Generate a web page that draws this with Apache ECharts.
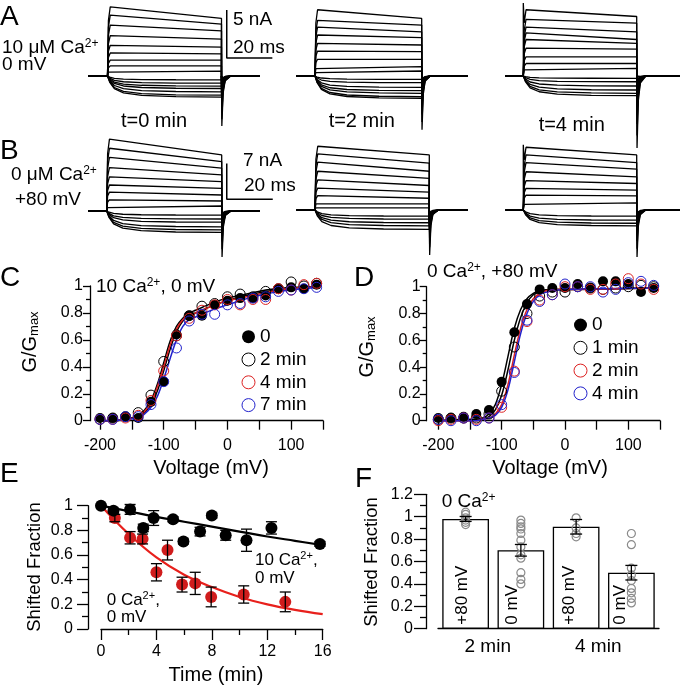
<!DOCTYPE html>
<html><head><meta charset="utf-8">
<script src="https://cdn.jsdelivr.net/npm/echarts@6/dist/echarts.min.js"></script>
<style>html,body{margin:0;padding:0;background:#fff}#c{width:680px;height:689px}</style>
</head><body><div id="c"></div>
<script>
// ---------------- DATA ----------------
// Panels A/B: current traces (nA), pulse length (ms)
const pulseMs = 50;
const scaleBarA = [20, 5];   // ms, nA
const scaleBarB = [20, 7];   // ms, nA
const a1Start = [7.2,6.35,5.3,4.2,3.2,2.4,1.65,1.05,0.5];
const a1End   = [6.0,5.4,4.7,3.85,3.0,2.3,1.65,1.05,0.5];
const a1In    = [-0.4,-0.75,-1.05,-1.3,-1.65,-2.0,-2.2];
const a1Tail  = [-5.2,-4.5,-3.8,-3.1,-2.4,-1.8,-1.2,-0.8,-0.5];
const a2Start = [6.9,5.8,5.1,4.27,3.4,2.6,1.74,0.97,0.45];
const a2End   = [6.0,5.3,4.6,4.0,3.23,2.53,1.74,0.97,0.52];
const a2In    = [-0.35,-0.7,-1.18,-1.53,-1.8,-2.15,-2.32];
const a2Tail  = [-5.6,-4.8,-4.0,-3.3,-2.6,-2.0,-1.4,-0.9,-0.5];
const a3Start = [6.9,5.9,5.1,4.5,3.8,2.9,2.0,1.3,0.8];
const a3End   = [6.2,5.5,4.6,3.8,3.4,2.8,2.0,1.3,0.8];
const a3In    = [-0.24,-0.6,-1.04,-1.46,-1.8,-2.05];
const a3Tail  = [-7.5,-6.2,-5.0,-4.0,-3.1,-2.4,-1.7,-1.1,-0.6];
const b1Start = [14.1,12.3,10.5,8.5,6.7,5.1,3.7,2.2,0.85];
const b1End   = [11.0,9.7,8.4,7.1,5.75,4.45,3.14,1.96,0.98];
const b1In    = [-0.8,-1.57,-2.2,-3.1,-3.7,-4.2];
const b1Tail  = [-9,-7.5,-6,-4.8,-3.8,-2.9,-2.1,-1.4,-0.8];
const b2Start = [12.5,11.0,9.4,7.6,5.9,4.3,2.8,1.5,0.5];
const b2End   = [10.8,9.2,7.6,6.2,4.8,3.5,2.3,1.2,0.4];
const b2In    = [-1.2,-1.8,-2.5,-3.1,-3.8];
const b2Tail  = [-8.8,-7.3,-5.9,-4.7,-3.7,-2.8,-2.0,-1.3,-0.7];
const b3Start = [12.3,10.8,9.3,7.5,5.75,4.25,2.9,1.4];
const b3End   = [10.8,9.3,8.0,6.5,5.2,3.9,2.75,1.4];
const b3In    = [-1.2,-2.0,-2.6,-3.1];
const b3Tail  = [-9.2,-7.6,-6.1,-4.8,-3.7,-2.7,-1.8,-1.0];
const onsetSpike = [0,0,7.6,0,0,12.8];

// Panel C
const voltC = [-200,-180,-160,-140,-120,-100,-80,-60,-40,-20,0,20,40,60,80,100,120,140];
const gC0 = [0.02,0.02,0.03,0.02,0.14,0.29,0.64,0.78,0.78,0.86,0.89,0.91,0.91,0.93,0.98,0.99,0.98,1.01];
const gC2 = [0.01,0.02,0.03,0.06,0.19,0.44,0.63,0.78,0.85,0.87,0.92,0.94,0.92,0.96,0.98,1.03,1.00,1.02];
const gC4 = [0.01,0.01,0.02,0.04,0.15,0.37,0.63,0.76,0.82,0.86,0.90,0.86,0.90,0.90,0.98,0.97,1.01,1.02];
const gC7 = [0.01,0.01,0.03,0.03,0.12,0.29,0.54,0.74,0.79,0.79,0.86,0.87,0.91,0.92,0.96,0.97,0.98,0.99];
const fitVoltC = [-200,-180,-160,-140,-130,-120,-110,-100,-90,-80,-70,-60,-50,-40,-20,0,20,40,60,80,100,120,140];
const fitC0 = [0.00,0.00,0.01,0.03,0.06,0.12,0.22,0.37,0.53,0.66,0.74,0.78,0.80,0.82,0.86,0.89,0.92,0.94,0.96,0.97,0.98,0.99,0.99];
const fitC2 = [0.00,0.00,0.01,0.04,0.08,0.15,0.27,0.43,0.59,0.70,0.76,0.80,0.82,0.84,0.88,0.91,0.93,0.95,0.97,0.98,0.99,0.99,1.00];
const fitC4 = [0.00,0.00,0.01,0.03,0.07,0.13,0.25,0.40,0.56,0.68,0.75,0.78,0.80,0.82,0.86,0.89,0.91,0.93,0.95,0.97,0.98,0.99,0.99];
const fitC7 = [0.00,0.00,0.01,0.02,0.05,0.10,0.18,0.31,0.46,0.60,0.70,0.75,0.77,0.79,0.83,0.86,0.89,0.92,0.94,0.96,0.97,0.98,0.99];
const legendC = ['0','2 min','4 min','7 min'];

// Panel D
const voltD = [-200,-180,-160,-140,-120,-100,-80,-60,-40,-20,0,20,40,60,80,100,120,140];
const gD0 = [0.02,0.02,0.03,0.05,0.08,0.29,0.66,0.87,0.98,0.99,0.99,1.02,0.99,1.04,1.04,1.02,0.96,0.99];
const gD1 = [0.01,0.02,0.02,0.02,0.05,0.22,0.55,0.80,0.93,0.96,0.96,1.00,0.99,0.98,0.99,1.00,1.01,1.00];
const gD2 = [0.00,0.01,0.02,0.01,0.02,0.10,0.37,0.74,0.90,0.94,1.00,1.00,0.98,0.98,1.02,1.06,1.02,0.98];
const gD4 = [0.01,0.00,0.02,0.00,0.02,0.12,0.36,0.75,0.89,0.94,1.02,1.00,1.00,0.96,0.98,1.03,1.04,1.01];
const fitVoltD = [-200,-140,-130,-120,-110,-100,-90,-80,-70,-60,-50,-40,-20,0,140];
const fitD0 = [0.00,0.01,0.02,0.05,0.12,0.27,0.48,0.69,0.83,0.91,0.95,0.97,0.98,0.98,0.99];
const fitD1 = [0.00,0.01,0.01,0.03,0.08,0.19,0.38,0.60,0.77,0.88,0.94,0.96,0.98,0.98,0.99];
const fitD2 = [0.00,0.00,0.01,0.02,0.05,0.12,0.27,0.49,0.69,0.83,0.91,0.95,0.98,0.98,0.99];
const fitD4 = [0.00,0.00,0.01,0.02,0.04,0.10,0.23,0.44,0.65,0.80,0.89,0.94,0.97,0.98,0.99];
const legendD = ['0','1 min','2 min','4 min'];

// Panel E
const timeBlack = [0,0.9,2.1,3.05,3.8,5.2,5.95,7.15,8.0,9.0,10.5,12.3,15.8];
const fracBlack = [1.0,0.96,0.97,0.82,0.90,0.89,0.71,0.79,0.92,0.76,0.72,0.82,0.69];
const errBlack  = [0,0.02,0.04,0.03,0.06,0.02,0.02,0.035,0.02,0.04,0.09,0.05,0.02];
const timeRed = [1.0,2.1,3.0,4.0,4.8,5.85,6.8,7.95,10.3,13.3];
const fracRed = [0.90,0.74,0.73,0.46,0.64,0.36,0.37,0.26,0.28,0.22];
const errRed  = [0.03,0.05,0.04,0.07,0.08,0.06,0.09,0.08,0.07,0.08];
const fitTime = [0,2,4,6,8,10,12,14,16];
const fitBlackE = [1.0,0.955,0.91,0.87,0.83,0.79,0.75,0.715,0.68];
const fitRedE = [1.0,0.77,0.58,0.44,0.34,0.26,0.20,0.155,0.12];

// Panel F
const barLabels = ['+80 mV','0 mV','+80 mV','0 mV'];
const barValues = [0.98,0.70,0.91,0.50];
const barErr = [0.022,0.052,0.065,0.065];
const groupLabels = ['2 min','4 min'];
const ptsBar1 = [1.04,1.02,0.99,0.97,0.95,0.93];
const ptsBar2 = [0.97,0.94,0.91,0.89,0.85,0.79,0.73,0.66,0.63,0.50,0.44,0.40];
const ptsBar3 = [0.99,0.90,0.85,0.82];
const ptsBar4 = [0.85,0.75,0.54,0.48,0.43,0.36,0.32,0.27,0.23];

// ---------------- LAYOUT / STYLE ----------------
const FONT = '"Liberation Sans", Arial, Helvetica, sans-serif';
const RED = '#dd2222', BLUE = '#2222cc';
const zip = (a, b) => a.map((v, i) => [v, b[i]]);

const tracePanels = [
  {ps:107.5, pe:221.5, bl0:88,    bl1:260, right:280, base:76,  k:9.6, top:0,   bottom:150},
  {ps:315,   pe:421.7, bl0:296.7, bl1:468, right:468, base:76,  k:9.6, top:0,   bottom:150},
  {ps:523.3, pe:636.7, bl0:505.7, bl1:680, right:680, base:76,  k:9.6, top:0,   bottom:150},
  {ps:106.7, pe:221.7, bl0:88,    bl1:260, right:280, base:211, k:5.1, top:135, bottom:262},
  {ps:315,   pe:429.3, bl0:296.7, bl1:468, right:468, base:210, k:5.1, top:135, bottom:262},
  {ps:523.3, pe:636.7, bl0:505.7, bl1:680, right:680, base:210, k:5.1, top:135, bottom:262}
];
const traceSets = [
  [a1Start,a1End,a1In,a1Tail],[a2Start,a2End,a2In,a2Tail],[a3Start,a3End,a3In,a3Tail],
  [b1Start,b1End,b1In,b1Tail],[b2Start,b2End,b2In,b2Tail],[b3Start,b3End,b3In,b3Tail]
];
// scale bar anchors (ms, nA) in panel A1 / B1 coordinates
const scaleAnchorA = [52.3, 1.875];
const scaleAnchorB = [52.2, 2.3];

const grids = [], xAxes = [], yAxes = [], series = [];

tracePanels.forEach((p, i) => {
  const s = (p.pe - p.ps) / pulseMs;
  const xmin = (p.bl0 - p.ps) / s, xmax = (p.right - p.ps) / s, tEnd = (p.bl1 - p.ps) / s;
  grids.push({left:p.bl0, top:p.top, width:p.right - p.bl0, height:p.bottom - p.top});
  xAxes.push({type:'value', gridIndex:i, min:xmin, max:xmax, show:false});
  yAxes.push({type:'value', gridIndex:i, min:(p.base - p.bottom)/p.k, max:(p.base - p.top)/p.k, show:false});
  const [st, en, inw, tl] = traceSets[i];
  const T = pulseMs;
  const addLine = (data) => series.push({type:'line', xAxisIndex:i, yAxisIndex:i, data, symbol:'none',
    silent:true, lineStyle:{color:'#000', width:1.3}, z:2});
  inw.forEach(f => {
    addLine([[xmin,0],[0,0],[1,0.3*f],[3,0.6*f],[7,0.8*f],[15,0.92*f],[30,0.98*f],[T,f],[T,0],[T+0.4,0.7*f],[T+1.5,0.2*f],[T+4,0],[tEnd,0]]);
  });
  st.forEach((a, j) => {
    const e = en[j], t = tl[j];
    const d = [[xmin,0],[0,0]];
    if (j === 0 && onsetSpike[i] > 0) d.push([0, onsetSpike[i]]);
    d.push([0.4, 0.8*a],[1.2, a],[T, e],[T, 0],[T+0.15, t],[T+0.7, t*0.35],[T+1.6, t*0.1],[T+4, 0],[tEnd, 0]);
    addLine(d);
  });
});
// scale bars
series.push({type:'line', xAxisIndex:0, yAxisIndex:0, symbol:'none', silent:true, lineStyle:{color:'#000', width:1.5},
  data:[[scaleAnchorA[0], scaleAnchorA[1]+scaleBarA[1]],[scaleAnchorA[0], scaleAnchorA[1]],[scaleAnchorA[0]+scaleBarA[0], scaleAnchorA[1]]]});
series.push({type:'line', xAxisIndex:3, yAxisIndex:3, symbol:'none', silent:true, lineStyle:{color:'#000', width:1.5},
  data:[[scaleAnchorB[0], scaleAnchorB[1]+scaleBarB[1]],[scaleAnchorB[0], scaleAnchorB[1]],[scaleAnchorB[0]+scaleBarB[0], scaleAnchorB[1]]]});

// common axis styling
const AL = {show:true, onZero:false, lineStyle:{color:'#000', width:1.3}};
const TS = {color:'#000', width:1.3};
const LBL = (margin, extra) => Object.assign({color:'#000', fontSize:16, fontFamily:FONT, margin}, extra || {});

// C (grid 6), D (grid 7)
grids.push({left:100, top:286, width:223, height:134.7});
grids.push({left:438.3, top:286.7, width:221.7, height:134});
[6,7].forEach((g, idx) => {
  xAxes.push({type:'value', gridIndex:g, min:-200, max:150, interval:50, splitLine:{show:false}, axisLine:AL,
    axisTick:{show:true, length:9, lineStyle:TS},
    axisLabel:LBL(17, {formatter: v => (v % 100 === 0 ? String(v) : '')})});
  yAxes.push({type:'value', gridIndex:g, min:0, max:1, interval:0.2, offset: idx === 0 ? 10 : 11.6,
    splitLine:{show:false}, axisLine:AL, axisTick:{show:true, length:7, lineStyle:TS},
    minorTick:{show:true, splitNumber:2, length:4, lineStyle:TS}, axisLabel:LBL(idx === 0 ? 7 : 6)});
});
// E (grid 8)
grids.push({left:101, top:505.7, width:221.7, height:123.3});
xAxes.push({type:'value', gridIndex:8, min:0, max:16, interval:4, splitLine:{show:false}, axisLine:AL,
  axisTick:{show:true, length:11, lineStyle:TS}, minorTick:{show:true, splitNumber:2, length:6, lineStyle:TS},
  axisLabel:LBL(15)});
yAxes.push({type:'value', gridIndex:8, min:0, max:1, interval:0.2, offset:13, splitLine:{show:false}, axisLine:AL,
  axisTick:{show:true, length:11, lineStyle:TS}, minorTick:{show:true, splitNumber:2, length:6, lineStyle:TS},
  axisLabel:LBL(15)});
// F (grid 9)
grids.push({left:438, top:494.3, width:221, height:134.4});
xAxes.push({type:'category', gridIndex:9, data:barLabels.map((b, i) => b + i), position:'bottom',
  axisLine:AL, axisTick:{show:false}, axisLabel:{show:false}, splitLine:{show:false}});
yAxes.push({type:'value', gridIndex:9, min:0, max:1.2, interval:0.2, offset:12, splitLine:{show:false}, axisLine:AL,
  axisTick:{show:true, length:12, lineStyle:TS}, minorTick:{show:true, splitNumber:2, length:6, lineStyle:TS},
  axisLabel:LBL(13)});
xAxes.push({type:'category', gridIndex:9, data:groupLabels, position:'bottom', axisLine:{show:false},
  axisTick:{show:false}, splitLine:{show:false},
  axisLabel:{color:'#000', fontSize:19, fontFamily:FONT, margin:9, padding:[0,11,0,0]}});

// C/D series
function gSeries(ax, name, xs, ys, fill, stroke, z) {
  return {type:'scatter', name, xAxisIndex:ax, yAxisIndex:ax, data:zip(xs, ys), symbol:'circle', symbolSize:10,
    clip:false, silent:true, z,
    itemStyle:{color:fill, opacity:1, borderColor:stroke, borderWidth:fill === stroke ? 0 : 1}};
}
function fitSeries(ax, xs, ys, color) {
  return {type:'line', xAxisIndex:ax, yAxisIndex:ax, data:zip(xs, ys), symbol:'none', smooth:0.35, clip:false,
    silent:true, z:2, lineStyle:{color, width:1.5}};
}
const HOLLOW = 'rgba(0,0,0,0)';
series.push(fitSeries(6, fitVoltC, fitC0, '#000'), fitSeries(6, fitVoltC, fitC2, '#000'),
  fitSeries(6, fitVoltC, fitC4, RED), fitSeries(6, fitVoltC, fitC7, BLUE));
series.push(gSeries(6, 'C|'+legendC[0], voltC, gC0, '#000', '#000', 3),
  gSeries(6, 'C|'+legendC[1], voltC, gC2, HOLLOW, '#000', 4),
  gSeries(6, 'C|'+legendC[2], voltC, gC4, HOLLOW, RED, 4),
  gSeries(6, 'C|'+legendC[3], voltC, gC7, HOLLOW, BLUE, 4));
series.push(fitSeries(7, fitVoltD, fitD0, '#000'), fitSeries(7, fitVoltD, fitD1, '#000'),
  fitSeries(7, fitVoltD, fitD2, RED), fitSeries(7, fitVoltD, fitD4, BLUE));
series.push(gSeries(7, 'D|'+legendD[0], voltD, gD0, '#000', '#000', 3),
  gSeries(7, 'D|'+legendD[1], voltD, gD1, HOLLOW, '#000', 4),
  gSeries(7, 'D|'+legendD[2], voltD, gD2, HOLLOW, RED, 4),
  gSeries(7, 'D|'+legendD[3], voltD, gD4, HOLLOW, BLUE, 4));

// error bar renderer
function errRender(capHalf, width) {
  return function (params, api) {
    const x = api.value(0), lo = api.value(1), hi = api.value(2);
    const p1 = api.coord([x, lo]), p2 = api.coord([x, hi]);
    const st = {stroke:'#000', lineWidth:width};
    return {type:'group', children:[
      {type:'line', shape:{x1:p1[0], y1:p1[1], x2:p2[0], y2:p2[1]}, style:st},
      {type:'line', shape:{x1:p1[0]-capHalf, y1:p1[1], x2:p1[0]+capHalf, y2:p1[1]}, style:st},
      {type:'line', shape:{x1:p2[0]-capHalf, y1:p2[1], x2:p2[0]+capHalf, y2:p2[1]}, style:st}]};
  };
}
const errData = (xs, ys, es) => xs.map((x, i) => [x, ys[i]-es[i], ys[i]+es[i]]).filter((d, i) => es[i] > 0);

// E series
series.push({type:'line', xAxisIndex:8, yAxisIndex:8, data:zip(fitTime, fitRedE), symbol:'none', smooth:0.4,
  silent:true, z:2, lineStyle:{color:'#e8201c', width:2.2}});
series.push({type:'line', xAxisIndex:8, yAxisIndex:8, data:zip(fitTime, fitBlackE), symbol:'none', smooth:0.4,
  silent:true, z:2, lineStyle:{color:'#000', width:2.2}});
series.push({type:'scatter', xAxisIndex:8, yAxisIndex:8, data:zip(timeRed, fracRed), symbolSize:12, clip:false,
  silent:true, z:3, itemStyle:{color:'#d01c1c', opacity:1}});
series.push({type:'scatter', xAxisIndex:8, yAxisIndex:8, data:zip(timeBlack, fracBlack), symbolSize:12, clip:false,
  silent:true, z:3, itemStyle:{color:'#000', opacity:1}});
series.push({type:'custom', xAxisIndex:8, yAxisIndex:8, data:errData(timeRed, fracRed, errRed).concat(errData(timeBlack, fracBlack, errBlack)),
  encode:{x:0, y:[1,2]}, renderItem:errRender(5.5, 1.3), silent:true, z:5});

// F series
const barLabelDy = [-3, -9, -7, -11];
series.push({type:'bar', xAxisIndex:9, yAxisIndex:9, barWidth:46.7, silent:true, z:2,
  itemStyle:{color:'#fff', borderColor:'#000', borderWidth:1.3},
  data:barValues.map((v, i) => ({value:v, label:{offset:[0, barLabelDy[i]]}})),
  label:{show:true, position:'insideBottom', rotate:90, align:'left', verticalAlign:'middle', distance:4,
    fontSize:17, fontFamily:FONT, color:'#000', formatter: p => barLabels[p.dataIndex]}});
const fPts = [];
[ptsBar1, ptsBar2, ptsBar3, ptsBar4].forEach((arr, i) => arr.forEach(v => fPts.push([i, v])));
series.push({type:'scatter', xAxisIndex:9, yAxisIndex:9, data:fPts, symbolSize:8, silent:true, z:3, clip:false,
  itemStyle:{color:HOLLOW, opacity:1, borderColor:'#8a8a8a', borderWidth:1.2}});
series.push({type:'custom', xAxisIndex:9, yAxisIndex:9, data:barValues.map((v, i) => [i, v-barErr[i], v+barErr[i]]),
  encode:{x:0, y:[1,2]}, renderItem:errRender(6, 1.3), silent:true, z:4});

// legends
function legendItems(prefix, labels) {
  const strokes = ['#000', '#000', RED, BLUE];
  return labels.map((l, i) => ({name:prefix + l, icon:'circle',
    itemStyle: i === 0 ? {color:'#000', opacity:1, borderWidth:0} : {color:HOLLOW, borderColor:strokes[i], borderWidth:1}}));
}
const legendBase = {orient:'vertical', itemWidth:13, itemHeight:13, itemGap:2.8, padding:0, selectedMode:false,
  formatter: n => n.split('|')[1], textStyle:{color:'#000', fontSize:19, fontFamily:FONT, lineHeight:20}};

// texts
const sup = (fs) => ({fontSize:fs, fontFamily:FONT, fill:'#000', verticalAlign:'top', lineHeight:fs});
function txt(x, y, text, fs, opt) {
  opt = opt || {};
  const style = {text, fontSize:fs, fontFamily:FONT, fill:'#000', align:opt.align || 'left', verticalAlign:'middle'};
  if (opt.rich) style.rich = opt.rich;
  return {type:'text', x, y, rotation:opt.rot || 0, style, silent:true};
}
const richCa = (fs, sfs) => ({n:{fontSize:fs, fontFamily:FONT, fill:'#000', lineHeight:fs+2}, s:sup(sfs)});
const richG = {n:{fontSize:20, fontFamily:FONT, fill:'#000', lineHeight:22},
  b:{fontSize:13, fontFamily:FONT, fill:'#000', verticalAlign:'bottom', lineHeight:13}};

const graphics = [
  txt(0, 17, 'A', 28), txt(0, 151, 'B', 28), txt(0, 278, 'C', 28), txt(354, 278, 'D', 28),
  txt(0, 474, 'E', 28), txt(355, 479, 'F', 28),
  txt(2, 48, '{n|10 μM Ca}{s|2+}', 19, {rich:richCa(19, 12)}),
  txt(2, 64.5, '0 mV', 19),
  txt(11, 175, '{n|0 μM Ca}{s|2+}', 19, {rich:richCa(19, 12)}),
  txt(15, 200, '+80 mV', 19),
  txt(233, 20, '5 nA', 19), txt(233, 47.5, '20 ms', 19),
  txt(243, 160.5, '7 nA', 19), txt(244, 186, '20 ms', 19),
  txt(154, 121.5, 't=0 min', 20, {align:'center'}), txt(361.7, 121.5, 't=2 min', 20, {align:'center'}),
  txt(571.7, 125, 't=4 min', 20, {align:'center'}),
  txt(96, 287, '{n|10 Ca}{s|2+}{n|, 0 mV}', 19, {rich:richCa(19, 12)}),
  txt(427, 272, '{n|0 Ca}{s|2+}{n|, +80 mV}', 19, {rich:richCa(19, 12)}),
  txt(30, 342, '{n|G/G}{b|max}', 20, {align:'center', rot:Math.PI/2, rich:richG}),
  txt(367, 347, '{n|G/G}{b|max}', 20, {align:'center', rot:Math.PI/2, rich:richG}),
  txt(211, 468, 'Voltage (mV)', 20, {align:'center'}),
  txt(550, 468, 'Voltage (mV)', 20, {align:'center'}),
  txt(35, 567, 'Shifted Fraction', 18.5, {align:'center', rot:Math.PI/2}),
  txt(216, 675, 'Time (min)', 20, {align:'center'}),
  txt(255, 560, '{n|10 Ca}{s|2+}{n|,}', 17, {rich:richCa(17, 11)}),
  txt(255, 578, '0 mV', 17),
  txt(106.7, 600, '{n|0 Ca}{s|2+}{n|,}', 17, {rich:richCa(17, 11)}),
  txt(106.7, 617.5, '0 mV', 17),
  txt(372, 562, 'Shifted Fraction', 18.5, {align:'center', rot:Math.PI/2}),
  txt(441.7, 501.7, '{n|0 Ca}{s|2+}', 19, {rich:richCa(19, 12)})
];

const chart = echarts.init(document.getElementById('c'), null, {renderer:'canvas'});
chart.setOption({
  animation:false,
  backgroundColor:'#fff',
  grid:grids, xAxis:xAxes, yAxis:yAxes, series,
  legend:[
    Object.assign({}, legendBase, {left:241.5, top:326.7, data:legendItems('C|', legendC)}),
    Object.assign({}, legendBase, {left:573.5, top:315, data:legendItems('D|', legendD)})
  ],
  graphic:graphics
});
</script></body></html>
